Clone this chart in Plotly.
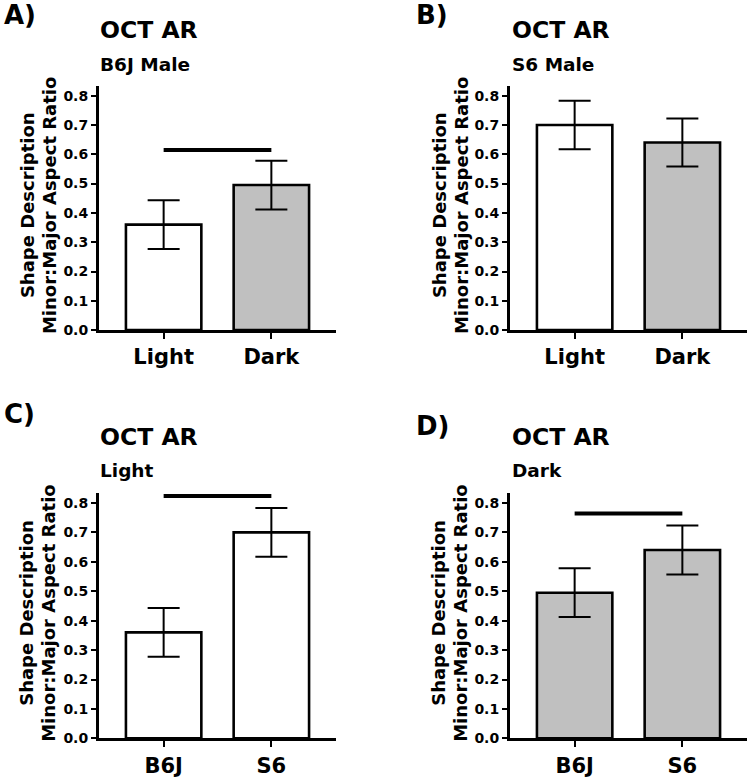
import plotly.graph_objects as go

# ---- data ----
panel_letters = ["A)", "B)", "C)", "D)"]
panel_titles = ["OCT AR", "OCT AR", "OCT AR", "OCT AR"]
panel_subtitles = ["B6J Male", "S6 Male", "Light", "Dark"]
cats_ab = ["Light", "Dark"]
cats_cd = ["B6J", "S6"]
cats = [cats_ab, cats_ab, cats_cd, cats_cd]
values = [[0.36, 0.495], [0.70, 0.64], [0.36, 0.70], [0.495, 0.64]]
errors = [[0.083, 0.083], [0.083, 0.082], [0.083, 0.083], [0.083, 0.083]]
fills = [["#ffffff", "#c0c0c0"], ["#ffffff", "#c0c0c0"],
         ["#ffffff", "#ffffff"], ["#c0c0c0", "#c0c0c0"]]
sig_y = [0.615, None, 0.824, 0.764]
y_ticks = [0.0, 0.1, 0.2, 0.3, 0.4, 0.5, 0.6, 0.7, 0.8]
y_title_1 = "Shape Description"
y_title_2 = "Minor:Major Aspect Ratio"

W, H = 750, 778
FONT = "DejaVu Sans"

# plot-area pixel boxes: (left, right, top, bottom)
boxes = [(99, 336, 87, 334), (510, 747, 87, 334),
         (99, 336, 499, 747), (510, 747, 499, 747)]

fig = go.Figure()
layout = dict(width=W, height=H, margin=dict(l=0, r=0, t=0, b=0),
              paper_bgcolor="white", plot_bgcolor="white", showlegend=False,
              font=dict(family=FONT, color="black"))
annotations = []

for i in range(4):
    n = "" if i == 0 else str(i + 1)
    xa, ya = "x" + n, "y" + n
    l, r, t, b = boxes[i]
    fig.add_trace(go.Bar(
        x=cats[i], y=values[i], xaxis=xa, yaxis=ya, width=0.7,
        marker=dict(color=fills[i], line=dict(color="black", width=2.6)),
        error_y=dict(type="data", array=errors[i], visible=True,
                     color="black", thickness=2, width=16),
    ))
    if sig_y[i] is not None:
        fig.add_trace(go.Scatter(
            x=cats[i], y=[sig_y[i], sig_y[i]], xaxis=xa, yaxis=ya,
            mode="lines", line=dict(color="black", width=4),
            cliponaxis=False, hoverinfo="skip"))
    layout["xaxis" + n] = dict(
        domain=[l / W, r / W], anchor=ya, range=[-0.6, 1.6],
        showline=True, linecolor="black", linewidth=3,
        ticks="outside", ticklen=6, tickwidth=2, tickcolor="black",
        tickfont=dict(family=FONT, size=21, color="black", weight="bold"),
        showgrid=False, zeroline=False, fixedrange=True)
    layout["yaxis" + n] = dict(
        domain=[1 - b / H, 1 - t / H], anchor=xa, range=[0, 0.833],
        tickvals=y_ticks, ticktext=[f"{v:.1f}" for v in y_ticks],
        showline=True, linecolor="black", linewidth=3,
        ticks="outside", ticklen=5, tickwidth=2, tickcolor="black",
        tickfont=dict(family=FONT, size=14, color="black", weight="bold"),
        showgrid=False, zeroline=False, fixedrange=True)

# text positions (pixels)
letter_pos = [(2, 15), (414, 15), (2, 419), (414, 431)]
title_pos = [(98, 30), (510, 30), (98, 442), (510, 442)]
sub_pos = [(98, 65), (510, 65), (98, 476), (510, 476)]
ytitle_x = [(27, 49), (439, 461), (27, 49), (439, 461)]

for i in range(4):
    lx, ly = letter_pos[i]
    annotations.append(dict(text=panel_letters[i], x=lx / W, y=1 - ly / H,
                            xref="paper", yref="paper", xanchor="left", yanchor="middle",
                            showarrow=False, font=dict(size=26, weight="bold")))
    tx, ty = title_pos[i]
    annotations.append(dict(text=panel_titles[i], x=tx / W, y=1 - ty / H,
                            xref="paper", yref="paper", xanchor="left", yanchor="middle",
                            showarrow=False, font=dict(size=23.5, weight="bold")))
    sx, sy = sub_pos[i]
    annotations.append(dict(text=panel_subtitles[i], x=sx / W, y=1 - sy / H,
                            xref="paper", yref="paper", xanchor="left", yanchor="middle",
                            showarrow=False, font=dict(size=18.5, weight="bold")))
    l, r, t, b = boxes[i]
    cy = 1 - ((t + b) / 2 - 3) / H
    for k, txt in enumerate([y_title_1, y_title_2]):
        annotations.append(dict(text=txt, x=ytitle_x[i][k] / W, y=cy,
                                xref="paper", yref="paper", xanchor="center", yanchor="middle",
                                textangle=-90, showarrow=False,
                                font=dict(size=18, weight="bold")))

layout["annotations"] = annotations
fig.update_layout(**layout)
fig.write_html("out.html", config={"displayModeBar": False},
               post_script="document.body.style.margin='0';document.body.style.overflow='hidden';")
